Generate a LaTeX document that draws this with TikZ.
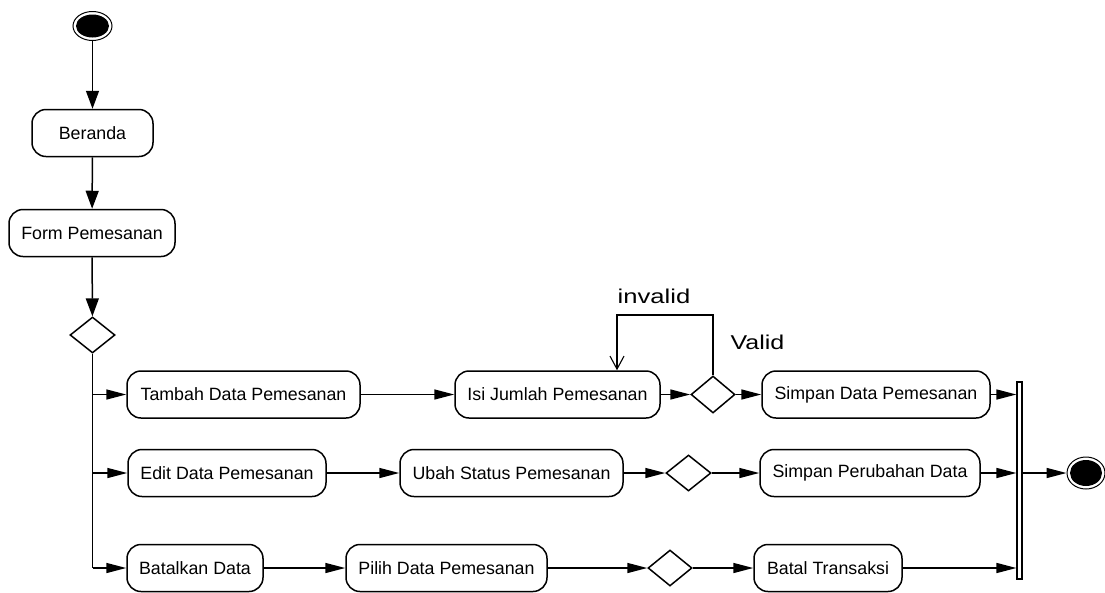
\documentclass[tikz,border=0pt]{standalone}
\usepackage{fontspec}
\setmainfont{Liberation Sans}
\usetikzlibrary{arrows.meta,shapes.geometric}
\begin{document}
\begin{tikzpicture}[x=1pt,y=-1pt,
  line width=1.5pt,
  act/.style={draw,rounded corners=14pt,minimum height=47pt,inner sep=0pt,
    font=\fontsize{17.8}{20}\selectfont},
  dec/.style={draw,diamond,inner sep=0pt,minimum width=45pt,minimum height=36pt},
  harr/.style={-{Triangle[length=20pt,width=10pt]}},
  varr/.style={-{Triangle[length=18pt,width=13pt]}},
  openarr/.style={-{Straight Barb[length=13pt,width=14pt,line width=1.1pt]},line width=1.2pt},
  guard/.style={font=\fontsize{20}{24}\selectfont,inner sep=0pt}]
\useasboundingbox (0,0) rectangle (1105,592);

% start and end markers
\node[draw,ellipse,fill=white,minimum width=39pt,minimum height=29pt,inner sep=0pt,line width=1pt] (start) at (92.5,26) {};
\node[ellipse,fill=black,minimum width=33pt,minimum height=23pt,inner sep=0pt] (startdot) at (start.center) {};
\node[draw,ellipse,fill=white,minimum width=38pt,minimum height=32pt,inner sep=0pt,line width=1pt] (fin) at (1086,473) {};
\node[ellipse,fill=black,minimum width=32pt,minimum height=26pt,inner sep=0pt] (findot) at (fin.center) {};

% actions
\node[act,minimum width=121pt] (ber) at (92.5,133) {Beranda};
\node[act,minimum width=166pt] (form) at (92,233) {Form Pemesanan};
\node[dec] (d0) at (92.5,335) {};

\node[act,minimum width=233pt] (tam) at (243.5,394.5) {Tambah Data Pemesanan};
\node[act,minimum width=205pt] (isi) at (557.5,394.5) {Isi Jumlah Pemesanan};
\node[dec,minimum width=44pt,minimum height=37pt] (d1) at (713,394.5) {};
\node[act,minimum width=228pt] (sim) at (876,394.5) {Simpan Data Pemesanan};

\node[act,minimum width=198pt] (edit) at (227,473) {Edit Data Pemesanan};
\node[act,minimum width=223pt] (ubah) at (511.5,473) {Ubah Status Pemesanan};
\node[dec] (d2) at (688.5,473) {};
\node[act,minimum width=220pt] (per) at (870,473) {Simpan Perubahan Data};

\node[act,minimum width=136pt] (bat) at (195,568) {Batalkan Data};
\node[act,minimum width=201pt] (pil) at (446.5,568) {Pilih Data Pemesanan};
\node[dec,minimum width=44pt] (d3) at (670,568) {};
\node[act,minimum width=148pt] (btr) at (828,568) {Batal Transaksi};

% join bar
\node[draw,fill=white,minimum width=5pt,minimum height=197pt,inner sep=0pt,line width=1.2pt] (bar) at (1019.5,480.5) {};

% guard labels
\node[guard] (linv) at (654,296) {\scalebox{1.28}[1]{invalid}};
\node[guard] (lval) at (757.5,342) {\scalebox{1.25}[1]{Valid}};

% flow
\draw[varr] (start) -- (ber);
\draw[varr] (ber) -- (form);
\draw[varr] (form) -- (d0);
\draw (d0.south) -- (d0.south |- bat.west);
\draw[harr] (d0.south |- tam.west) -- (tam.west);
\draw[harr] (d0.south |- edit.west) -- (edit.west);
\draw[harr] (d0.south |- bat.west) -- (bat.west);

\draw[harr] (tam) -- (isi);
\draw[harr] (isi) -- (d1);
\draw[harr] (d1) -- (sim);
\draw[harr] (sim.east) -- (bar.west |- sim.east);
\coordinate (loop) at (617,315);
\draw[openarr] (d1.north) |- (loop) -- (isi.north -| loop);

\draw[harr] (edit) -- (ubah);
\draw[harr] (ubah) -- (d2);
\draw[harr] (d2) -- (per);
\draw[harr] (per.east) -- (bar.west |- per.east);

\draw[harr] (bat) -- (pil);
\draw[harr] (pil) -- (d3);
\draw[harr] (d3) -- (btr);
\draw[harr] (btr.east) -- (bar.west |- btr.east);

\draw[harr] (bar.east |- fin.west) -- (fin.west);
\end{tikzpicture}
\end{document}
